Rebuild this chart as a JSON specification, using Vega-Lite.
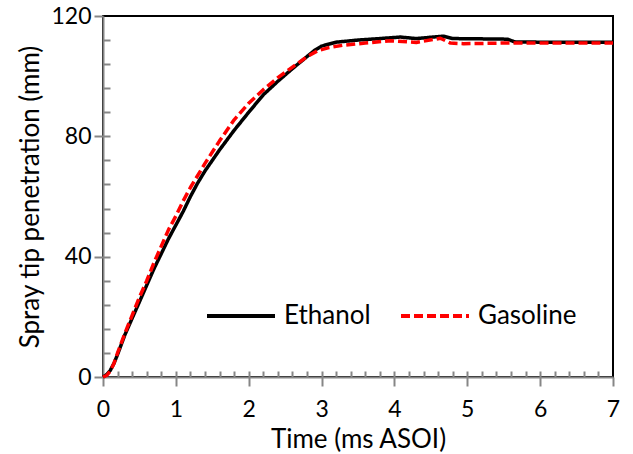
{
  "$schema": "https://vega.github.io/schema/vega-lite/v6.json",
  "width": 510,
  "height": 361,
  "autosize": {"type": "none"},
  "padding": {"left": 103, "top": 16, "right": 20, "bottom": 77},
  "background": "white",
  "config": {
    "font": "Lato",
    "view": {"stroke": "black", "strokeWidth": 2},
    "axis": {
      "grid": false,
      "domainColor": "#868686",
      "domainWidth": 2,
      "tickColor": "#868686",
      "tickWidth": 2,
      "labelColor": "black",
      "labelFont": "Lato",
      "labelFontSize": 23,
      "labelFlush": false,
      "titleColor": "black",
      "titleFont": "Lato",
      "titleFontSize": 26,
      "titleFontWeight": "normal"
    },
    "legend": {
      "labelFont": "Lato",
      "labelFontSize": 26,
      "labelColor": "black"
    }
  },
  "data": {
    "values": [
      {"fuel": "Ethanol", "t": 0, "s": 0},
      {"fuel": "Ethanol", "t": 0.05, "s": 0.8},
      {"fuel": "Ethanol", "t": 0.1, "s": 2.2},
      {"fuel": "Ethanol", "t": 0.15, "s": 4.5},
      {"fuel": "Ethanol", "t": 0.2, "s": 7.5},
      {"fuel": "Ethanol", "t": 0.3, "s": 14},
      {"fuel": "Ethanol", "t": 0.4, "s": 19.5},
      {"fuel": "Ethanol", "t": 0.5, "s": 25},
      {"fuel": "Ethanol", "t": 0.6, "s": 30.5},
      {"fuel": "Ethanol", "t": 0.7, "s": 36},
      {"fuel": "Ethanol", "t": 0.8, "s": 41},
      {"fuel": "Ethanol", "t": 0.9, "s": 46},
      {"fuel": "Ethanol", "t": 1.0, "s": 50.5},
      {"fuel": "Ethanol", "t": 1.1, "s": 55},
      {"fuel": "Ethanol", "t": 1.2, "s": 60},
      {"fuel": "Ethanol", "t": 1.3, "s": 64.5},
      {"fuel": "Ethanol", "t": 1.4, "s": 68.5},
      {"fuel": "Ethanol", "t": 1.5, "s": 72},
      {"fuel": "Ethanol", "t": 1.6, "s": 75.5},
      {"fuel": "Ethanol", "t": 1.8, "s": 82},
      {"fuel": "Ethanol", "t": 2.0, "s": 88},
      {"fuel": "Ethanol", "t": 2.2, "s": 93.8},
      {"fuel": "Ethanol", "t": 2.4, "s": 98.3},
      {"fuel": "Ethanol", "t": 2.6, "s": 102.5},
      {"fuel": "Ethanol", "t": 2.75, "s": 105.5},
      {"fuel": "Ethanol", "t": 2.9, "s": 108.5},
      {"fuel": "Ethanol", "t": 3.0, "s": 110},
      {"fuel": "Ethanol", "t": 3.2, "s": 111.3},
      {"fuel": "Ethanol", "t": 3.5, "s": 112},
      {"fuel": "Ethanol", "t": 3.8, "s": 112.5},
      {"fuel": "Ethanol", "t": 4.08, "s": 113},
      {"fuel": "Ethanol", "t": 4.3, "s": 112.5},
      {"fuel": "Ethanol", "t": 4.67, "s": 113.3},
      {"fuel": "Ethanol", "t": 4.8, "s": 112.5},
      {"fuel": "Ethanol", "t": 5.2, "s": 112.4},
      {"fuel": "Ethanol", "t": 5.55, "s": 112.3},
      {"fuel": "Ethanol", "t": 5.65, "s": 111.4},
      {"fuel": "Ethanol", "t": 6.0, "s": 111.3},
      {"fuel": "Ethanol", "t": 7.0, "s": 111.3},
      {"fuel": "Gasoline", "t": 0, "s": 0},
      {"fuel": "Gasoline", "t": 0.05, "s": 0.5},
      {"fuel": "Gasoline", "t": 0.1, "s": 2},
      {"fuel": "Gasoline", "t": 0.15, "s": 4.5},
      {"fuel": "Gasoline", "t": 0.2, "s": 8},
      {"fuel": "Gasoline", "t": 0.3, "s": 14.5},
      {"fuel": "Gasoline", "t": 0.4, "s": 20.5},
      {"fuel": "Gasoline", "t": 0.5, "s": 26.5},
      {"fuel": "Gasoline", "t": 0.6, "s": 32},
      {"fuel": "Gasoline", "t": 0.7, "s": 38},
      {"fuel": "Gasoline", "t": 0.8, "s": 43.5},
      {"fuel": "Gasoline", "t": 0.9, "s": 49},
      {"fuel": "Gasoline", "t": 1.0, "s": 53.5},
      {"fuel": "Gasoline", "t": 1.1, "s": 58.5},
      {"fuel": "Gasoline", "t": 1.2, "s": 63},
      {"fuel": "Gasoline", "t": 1.4, "s": 71},
      {"fuel": "Gasoline", "t": 1.6, "s": 78.5},
      {"fuel": "Gasoline", "t": 1.8, "s": 85.5},
      {"fuel": "Gasoline", "t": 2.0, "s": 91},
      {"fuel": "Gasoline", "t": 2.2, "s": 95.5},
      {"fuel": "Gasoline", "t": 2.4, "s": 99.5},
      {"fuel": "Gasoline", "t": 2.6, "s": 103},
      {"fuel": "Gasoline", "t": 2.8, "s": 106.5},
      {"fuel": "Gasoline", "t": 2.95, "s": 108.5},
      {"fuel": "Gasoline", "t": 3.1, "s": 109.5},
      {"fuel": "Gasoline", "t": 3.3, "s": 110.3},
      {"fuel": "Gasoline", "t": 3.6, "s": 111},
      {"fuel": "Gasoline", "t": 3.95, "s": 111.8},
      {"fuel": "Gasoline", "t": 4.3, "s": 111.2},
      {"fuel": "Gasoline", "t": 4.63, "s": 112.6},
      {"fuel": "Gasoline", "t": 4.77, "s": 111},
      {"fuel": "Gasoline", "t": 4.95, "s": 110.8},
      {"fuel": "Gasoline", "t": 5.5, "s": 111},
      {"fuel": "Gasoline", "t": 6.0, "s": 111},
      {"fuel": "Gasoline", "t": 7.0, "s": 111}
    ]
  },
  "layer": [
    {
      "mark": {"type": "line", "opacity": 0},
      "encoding": {
        "x": {
          "field": "t", "type": "quantitative",
          "scale": {"domain": [0, 7], "nice": false},
          "axis": {
            "orient": "bottom", "domain": false, "labels": false, "title": null,
            "tickSize": -6,
            "values": [0.2, 0.4, 0.6, 0.8, 1, 1.2, 1.4, 1.6, 1.8, 2, 2.2, 2.4, 2.6, 2.8, 3, 3.2, 3.4, 3.6, 3.8, 4, 4.2, 4.4, 4.6, 4.8, 5, 5.2, 5.4, 5.6, 5.8, 6, 6.2, 6.4, 6.6, 6.8]
          }
        },
        "y": {
          "field": "s", "type": "quantitative",
          "scale": {"domain": [0, 120], "nice": false},
          "axis": {
            "orient": "left", "domain": false, "labels": false, "title": null,
            "tickSize": -7,
            "values": [8, 16, 24, 32, 40, 48, 56, 64, 72, 80, 88, 96, 104, 112]
          }
        }
      }
    },
    {
      "mark": {"type": "line", "strokeWidth": 3.5, "strokeJoin": "round"},
      "encoding": {
        "x": {
          "field": "t", "type": "quantitative",
          "scale": {"domain": [0, 7], "nice": false},
          "axis": {
            "orient": "bottom", "values": [0, 1, 2, 3, 4, 5, 6, 7],
            "tickSize": 9, "labelPadding": 12,
            "title": "Time (ms ASOI)", "titlePadding": 5
          }
        },
        "y": {
          "field": "s", "type": "quantitative",
          "scale": {"domain": [0, 120], "nice": false},
          "axis": {
            "orient": "left", "values": [0, 40, 80, 120],
            "tickSize": 9, "labelPadding": 3,
            "title": "Spray tip penetration (mm)", "titlePadding": 7
          }
        },
        "color": {
          "field": "fuel", "type": "nominal",
          "scale": {"domain": ["Ethanol", "Gasoline"], "range": ["#000000", "#ff0000"]},
          "legend": {
            "title": null, "orient": "none", "direction": "horizontal",
            "legendX": 102, "legendY": 264, "padding": 0,
            "symbolType": "stroke", "symbolSize": 4624, "symbolStrokeWidth": 4,
            "labelOffset": 7, "columnPadding": 22
          }
        },
        "strokeDash": {
          "field": "fuel", "type": "nominal",
          "scale": {"domain": ["Ethanol", "Gasoline"], "range": [[1, 0], [9, 4]]},
          "legend": {
            "title": null, "orient": "none", "direction": "horizontal",
            "legendX": 102, "legendY": 264, "padding": 0,
            "symbolType": "stroke", "symbolSize": 4624, "symbolStrokeWidth": 4,
            "labelOffset": 7, "columnPadding": 22
          }
        }
      }
    }
  ],
  "resolve": {"axis": {"x": "independent", "y": "independent"}}
}
